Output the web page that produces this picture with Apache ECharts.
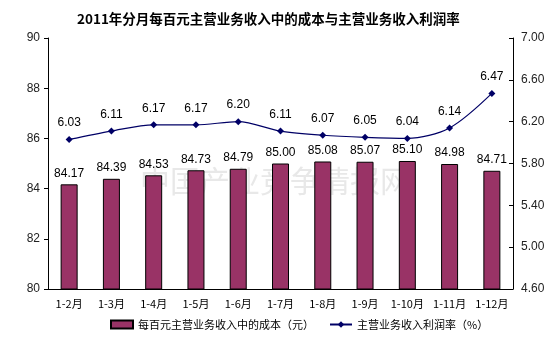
<!DOCTYPE html>
<html><head><meta charset="utf-8">
<script src="https://cdn.jsdelivr.net/npm/echarts@6/dist/echarts.min.js"></script>
<style>html,body{margin:0;padding:0;background:#fff}#c{width:558px;height:350px}</style>
</head><body><div id="c"></div>
<script>
const categories = ['1-2月','1-3月','1-4月','1-5月','1-6月','1-7月','1-8月','1-9月','1-10月','1-11月','1-12月'];
const costValues = [84.17,84.39,84.53,84.73,84.79,85.00,85.08,85.07,85.10,84.98,84.71];
const profitRate = [6.03,6.11,6.17,6.17,6.20,6.11,6.07,6.05,6.04,6.14,6.47];
const leftTicks = {min:80,max:90,interval:2};
const rightTicks = {min:4.6,max:7.0,interval:0.4};
const barName = '每百元主营业务收入中的成本（元）';
const lineName = '主营业务收入利润率（%）';

const chart = echarts.init(document.getElementById('c'));
chart.setOption({
  animation:false,
  backgroundColor:'#fff',
  title:{text:'2011年分月每百元主营业务收入中的成本与主营业务收入利润率',left:72,top:7,
    textStyle:{fontFamily:'Noto Sans CJK SC',fontWeight:'bold',fontSize:13.5,color:'#000'}},
  grid:{left:48,right:45,top:38,bottom:61},
  legend:{bottom:15,left:105,itemGap:15,itemWidth:22,itemHeight:8,
    textStyle:{fontFamily:'Noto Sans CJK SC',fontSize:11,color:'#000'},
    data:[{name:barName,icon:'rect'},{name:lineName}]},
  graphic:[{type:'text',left:140,top:166,silent:true,
    style:{text:'中国产业竞争情报网',fontFamily:'Noto Sans CJK SC',fontSize:30,fill:'rgba(180,180,180,0.3)',letterSpacing:4}}],
  xAxis:{type:'category',data:categories,
    axisLine:{lineStyle:{color:'#000'}},
    axisTick:{inside:true,length:3,lineStyle:{color:'#000'}},
    axisLabel:{fontFamily:'Noto Sans CJK SC',fontSize:11,color:'#000',margin:9,interval:0}},
  yAxis:[
    {type:'value',min:leftTicks.min,max:leftTicks.max,interval:leftTicks.interval,
     axisLine:{show:true,lineStyle:{color:'#000'}},axisTick:{show:true,length:4,lineStyle:{color:'#000'}},
     splitLine:{show:false},
     axisLabel:{fontFamily:'Arial',fontSize:12,color:'#222',margin:8}},
    {type:'value',min:rightTicks.min,max:rightTicks.max,interval:rightTicks.interval,
     axisLine:{show:true,lineStyle:{color:'#000'}},axisTick:{show:true,inside:true,length:4,lineStyle:{color:'#000'}},
     splitLine:{show:false},
     axisLabel:{fontFamily:'Arial',fontSize:12,color:'#222',margin:8,formatter:v=>v.toFixed(2)}}
  ],
  series:[
    {name:barName,type:'bar',data:costValues,barWidth:17,yAxisIndex:0,
     itemStyle:{color:'#993366',borderColor:'#000',borderWidth:1},
     label:{show:true,position:'top',distance:5,fontFamily:'Arial',fontSize:12,color:'#000',formatter:p=>p.value.toFixed(2)}},
    {name:lineName,type:'line',data:profitRate,yAxisIndex:1,smooth:0.3,
     symbol:'diamond',symbolSize:7,
     lineStyle:{color:'#000066',width:1.2},itemStyle:{color:'#000066'},
     label:{show:true,position:'top',distance:7,fontFamily:'Arial',fontSize:12,color:'#000',formatter:p=>p.value.toFixed(2)}}
  ]
});
</script></body></html>
